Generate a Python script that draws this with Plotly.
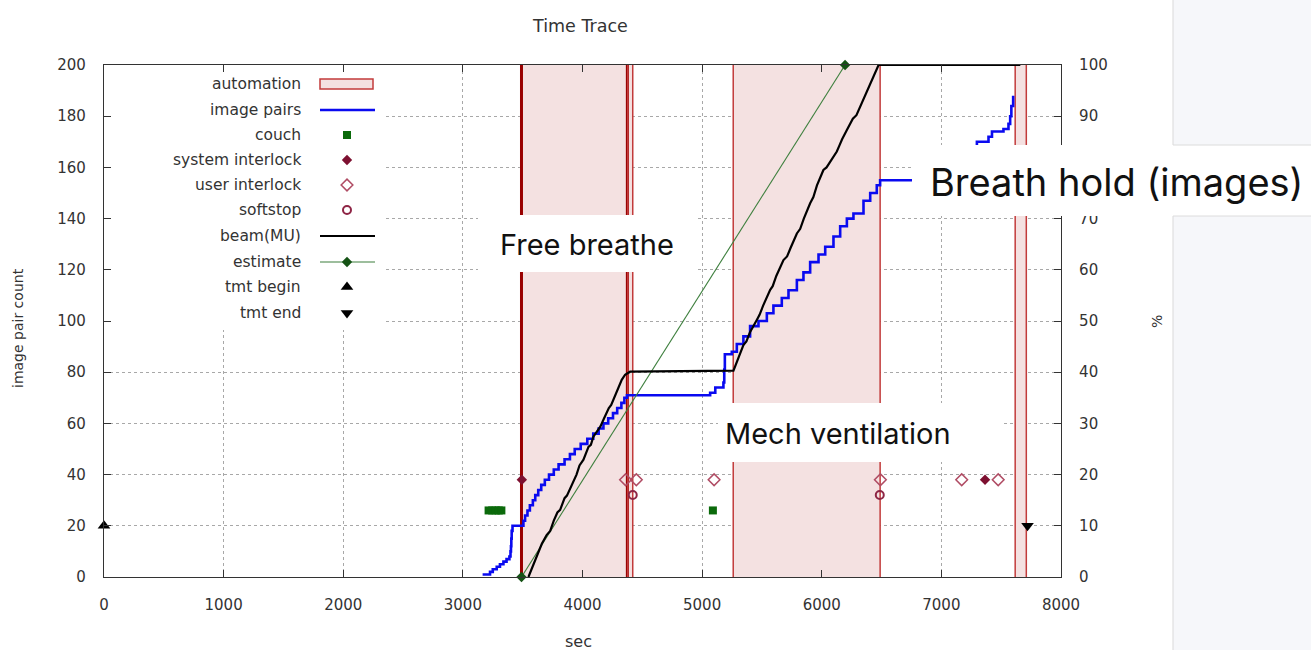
import plotly.graph_objects as go

# ---------------- data ----------------
x_ticks = [0, 1000, 2000, 3000, 4000, 5000, 6000, 7000, 8000]
y_ticks = [0, 20, 40, 60, 80, 100, 120, 140, 160, 180, 200]
y2_ticks = [0, 10, 20, 30, 40, 50, 60, 70, 80, 90, 100]
y2_labels = ["0", "10", "20", "30", "40", "50", "60", "70", "", "90", "100"]  # 80 is hidden under the note

auto_start = [3490, 4378, 5260, 7617]
auto_end = [4375, 4420, 6488, 7710]

img_t = [3165, 3200, 3227, 3250, 3283, 3310, 3339, 3365, 3389, 3398, 3402, 3405, 3408, 3415,
         3506, 3520, 3540, 3560, 3585, 3605, 3630, 3655, 3685, 3720, 3760, 3800, 3850, 3895,
         3935, 3985, 4040, 4090, 4135, 4175, 4215, 4255, 4290, 4325, 4350, 4372,
         5067, 5110, 5178, 5185, 5190, 5248, 5290, 5345, 5401, 5471, 5541, 5596, 5666, 5722,
         5792, 5847, 5903, 5973, 6029, 6098, 6154, 6210, 6265, 6349, 6405, 6460, 6488,
         7050, 7150, 7230, 7297, 7394, 7423, 7519, 7561, 7575, 7585, 7600]
img_n = [1, 1, 2, 3, 4, 5, 6, 7, 8, 10, 12, 15, 18, 20,
         22, 24, 26, 28, 30, 32, 34, 36, 38, 40, 42, 44, 46, 48,
         50, 52, 54, 56, 58, 60, 62, 64, 66, 68, 70, 71,
         72, 74, 76, 81, 87, 88, 91, 94, 98, 100, 103, 106, 109, 112,
         116, 119, 123, 126, 129, 133, 137, 140, 142, 147, 150, 153, 155,
         158, 162, 166, 170, 172, 174, 175, 177, 180, 184, 188]

beam_t = [3548, 3580, 3617, 3640, 3660, 3700, 3730, 3760, 3790, 3813, 3850, 3870, 3896, 3950,
          3975, 4008, 4050, 4070, 4091, 4130, 4150, 4175, 4220, 4240, 4259, 4300, 4328, 4356,
          4398, 5262, 5300, 5345, 5370, 5400, 5457, 5480, 5510, 5569, 5590, 5620, 5680, 5710,
          5740, 5792, 5820, 5850, 5903, 5930, 5960, 6014, 6040, 6070, 6126, 6150, 6170, 6210,
          6260, 6290, 6321, 6360, 6405, 6440, 6475, 7660]
beam_pct = [0, 1.8, 4.0, 5.0, 6.5, 8.2, 9.0, 11.0, 12.6, 13.1, 15.4, 15.9, 17.3, 20.0,
            21.8, 22.9, 25.4, 25.8, 27.4, 28.9, 29.4, 30.7, 33.0, 33.6, 34.6, 37.0, 38.5, 39.5,
            40.1, 40.3, 42.5, 45.3, 46.0, 47.8, 50.2, 51.2, 53.0, 56.1, 56.8, 58.8, 61.9, 62.6,
            64.3, 67.1, 68.0, 70.0, 73.0, 74.2, 76.5, 79.5, 80.0, 81.0, 83.1, 84.4, 85.5, 87.3,
            89.5, 90.2, 91.9, 94.0, 96.4, 98.2, 100, 100]

est_t = [3490, 6195]
est_pct = [0, 100]

couch_t = [3215, 3245, 3275, 3300, 3322, 5090]
couch_n = [26, 26, 26, 26, 26, 26]

sys_t = [3493, 7365]
sys_n = [38, 38]

user_t = [4360, 4450, 5100, 6490, 7170, 7475]
user_n = [38, 38, 38, 38, 38, 38]

soft_t = [4420, 6485]
soft_n = [32, 32]

tmt_begin_t = [0]
tmt_begin_n = [20]
tmt_end_t = [7720]
tmt_end_n = [20]

legend_labels = ["automation", "image pairs", "couch", "system interlock", "user interlock",
                 "softstop", "beam(MU)", "estimate", "tmt begin", "tmt end"]

# ---------------- geometry ----------------
W, H = 1311, 650
L, R, T, B = 104, 1061, 65, 577
XMAX, YMAX = 8000, 200


def px_x(p):  # pixel -> paper x
    return (p - L) / (R - L)


def px_y(p):  # pixel -> paper y
    return (B - p) / (B - T)


def dx(p):  # pixel -> data x
    return (p - L) / (R - L) * XMAX


def dy(p):  # pixel -> data y (left axis)
    return (B - p) / (B - T) * YMAX


BLUE = "#0a0af0"
GREEN_LINE = "#3d7f3d"
GREEN_DK = "#145214"
COUCH = "#0b6a0b"
MAROON = "#7d1030"
USER = "#b04c64"
SOFT = "#8e2545"
PINK = "#f4e1e1"
RED = "#c23b3b"
DKRED = "#990000"
AXIS = "#333333"
GRID = "#a8a8a8"
TXT = "#333333"
FONT = "DejaVu Sans, sans-serif"
OVL = "Inter, Noto Sans, sans-serif"

fig = go.Figure()

# ---------------- data traces ----------------
fig.add_trace(go.Scatter(x=img_t, y=img_n, mode="lines", line=dict(color=BLUE, width=2.6, shape="hv"),
                         yaxis="y"))
fig.add_trace(go.Scatter(x=est_t, y=est_pct, mode="lines+markers", yaxis="y2",
                         line=dict(color=GREEN_LINE, width=1.1),
                         marker=dict(symbol="diamond", size=8, color=GREEN_DK), cliponaxis=False))
fig.add_trace(go.Scatter(x=beam_t, y=beam_pct, mode="lines", yaxis="y2",
                         line=dict(color="black", width=2.2), cliponaxis=False))
fig.add_trace(go.Scatter(x=couch_t, y=couch_n, mode="markers",
                         marker=dict(symbol="square", size=8, color=COUCH)))
fig.add_trace(go.Scatter(x=sys_t, y=sys_n, mode="markers",
                         marker=dict(symbol="diamond", size=8, color=MAROON)))
fig.add_trace(go.Scatter(x=user_t, y=user_n, mode="markers",
                         marker=dict(symbol="diamond-open", size=9, color=USER, line=dict(width=1.5))))
fig.add_trace(go.Scatter(x=soft_t, y=soft_n, mode="markers",
                         marker=dict(symbol="circle-open", size=8, color=SOFT, line=dict(width=2))))
fig.add_trace(go.Scatter(x=tmt_begin_t, y=tmt_begin_n, mode="markers", cliponaxis=False,
                         marker=dict(symbol="triangle-up", size=11, color="black")))
fig.add_trace(go.Scatter(x=tmt_end_t, y=tmt_end_n, mode="markers", cliponaxis=False,
                         marker=dict(symbol="triangle-down", size=11, color="black")))

shapes = []
# automation regions
for i, (s, e) in enumerate(zip(auto_start, auto_end)):
    shapes.append(dict(type="rect", xref="x", yref="y", x0=s, x1=e, y0=0, y1=YMAX,
                       fillcolor=PINK, line=dict(width=0), layer="between"))
for i, (s, e) in enumerate(zip(auto_start, auto_end)):
    col, w = (DKRED, 3) if i == 0 else (RED, 1.5)
    for xv in (s, e):
        shapes.append(dict(type="line", xref="x", yref="y", x0=xv, x1=xv, y0=0, y1=YMAX,
                           line=dict(color=col, width=w), layer="between"))

# legend background (opaque, hides grid)
shapes.append(dict(type="rect", xref="x", yref="y", x0=dx(L + 1), x1=dx(383), y0=dy(330), y1=dy(T + 1),
                   fillcolor="white", line=dict(width=0), layer="between"))

# right side slide panel
shapes.append(dict(type="rect", xref="paper", yref="paper", x0=px_x(1173), x1=px_x(1312),
                   y0=px_y(651), y1=px_y(-1), fillcolor="#f6f7fa", line=dict(color="#d9d9d9", width=1),
                   layer="below"))

# overlay white boxes
boxes = [(478, 695, 215, 272), (718, 1003, 403, 462), (912, 1312, 145, 216)]
for (x0, x1, y0, y1) in boxes:
    shapes.append(dict(type="rect", xref="paper", yref="paper", x0=px_x(x0), x1=px_x(x1),
                       y0=px_y(y1), y1=px_y(y0), fillcolor="white", line=dict(width=0), layer="above"))
for yy in (145, 216):
    shapes.append(dict(type="line", xref="paper", yref="paper", x0=px_x(1173), x1=px_x(1312),
                       y0=px_y(yy), y1=px_y(yy), line=dict(color="#dcdcdc", width=1), layer="above"))

# ---------------- custom legend (gnuplot style: text then sample) ----------------
rows = [84, 110, 135, 160, 185, 210, 236, 262, 287, 313]
annotations = []
for lab, yy in zip(legend_labels, rows):
    annotations.append(dict(xref="x3", yref="y3", x=303, y=yy, text=lab, showarrow=False,
                            xanchor="right", yanchor="middle", font=dict(family=FONT, size=15.5, color=TXT)))
SX0, SX1, SXC = 320, 375, 347
shapes.append(dict(type="rect", xref="x3", yref="y3", x0=SX0, x1=SX1 - 2, y0=rows[0] - 5, y1=rows[0] + 5,
                   fillcolor=PINK, line=dict(color=RED, width=1.5), layer="above"))
fig.add_trace(go.Scatter(x=[SX0, SX1], y=[rows[1]] * 2, xaxis="x3", yaxis="y3", mode="lines",
                         line=dict(color=BLUE, width=2.6)))
fig.add_trace(go.Scatter(x=[SXC], y=[rows[2]], xaxis="x3", yaxis="y3", mode="markers",
                         marker=dict(symbol="square", size=8, color=COUCH)))
fig.add_trace(go.Scatter(x=[SXC], y=[rows[3]], xaxis="x3", yaxis="y3", mode="markers",
                         marker=dict(symbol="diamond", size=8, color=MAROON)))
fig.add_trace(go.Scatter(x=[SXC], y=[rows[4]], xaxis="x3", yaxis="y3", mode="markers",
                         marker=dict(symbol="diamond-open", size=9, color=USER, line=dict(width=1.5))))
fig.add_trace(go.Scatter(x=[SXC], y=[rows[5]], xaxis="x3", yaxis="y3", mode="markers",
                         marker=dict(symbol="circle-open", size=8, color=SOFT, line=dict(width=2))))
fig.add_trace(go.Scatter(x=[SX0, SX1], y=[rows[6]] * 2, xaxis="x3", yaxis="y3", mode="lines",
                         line=dict(color="black", width=2.2)))
fig.add_trace(go.Scatter(x=[SX0, SX1], y=[rows[7]] * 2, xaxis="x3", yaxis="y3", mode="lines",
                         line=dict(color=GREEN_LINE, width=1.1)))
fig.add_trace(go.Scatter(x=[SXC], y=[rows[7]], xaxis="x3", yaxis="y3", mode="markers",
                         marker=dict(symbol="diamond", size=8, color=GREEN_DK)))
fig.add_trace(go.Scatter(x=[SXC], y=[rows[8]], xaxis="x3", yaxis="y3", mode="markers",
                         marker=dict(symbol="triangle-up", size=11, color="black")))
fig.add_trace(go.Scatter(x=[SXC], y=[rows[9]], xaxis="x3", yaxis="y3", mode="markers",
                         marker=dict(symbol="triangle-down", size=11, color="black")))

# ---------------- texts ----------------
def txt(x, y, s, size, family=FONT, color=TXT, xanchor="center", angle=0):
    return dict(xref="paper", yref="paper", x=px_x(x), y=px_y(y), text=s, showarrow=False,
                xanchor=xanchor, yanchor="middle", textangle=angle,
                font=dict(family=family, size=size, color=color))


annotations += [
    txt(580, 26, "Time Trace", 17.5),
    txt(578, 641, "sec", 16),
    txt(18, 328, "image pair count", 14, angle=-90),
    txt(1157, 322, "%", 14, angle=-90),
    txt(587, 244, "Free breathe", 29, family=OVL, color="#111111"),
    txt(723, 433, "Mech ventilation", 29, family=OVL, color="#111111", xanchor="left"),
    txt(928, 182, "Breath hold (images)", 38, family=OVL, color="#111111", xanchor="left"),
]

axis_common = dict(showline=True, linecolor=AXIS, linewidth=1.2, ticks="inside", ticklen=7,
                   tickcolor=AXIS, zeroline=False, tickfont=dict(family=FONT, size=15, color=TXT))

fig.update_layout(
    width=W, height=H, margin=dict(l=L, r=W - R, t=T, b=H - B),
    plot_bgcolor="white", paper_bgcolor="white", showlegend=False,
    xaxis=dict(range=[0, XMAX], tickvals=x_ticks, mirror="ticks", showgrid=True, gridcolor=GRID,
               griddash="dot", gridwidth=1, ticklabelstandoff=14, **axis_common),
    yaxis=dict(range=[0, YMAX], tickvals=y_ticks, showgrid=True, gridcolor=GRID, griddash="dot",
               gridwidth=1, ticklabelstandoff=14, **axis_common),
    yaxis2=dict(range=[0, 100], tickvals=y2_ticks, ticktext=y2_labels, overlaying="y", side="right",
                showgrid=False, ticklabelstandoff=14, **axis_common),
    xaxis3=dict(range=[L, R], overlaying="x", visible=False, anchor="y3"),
    yaxis3=dict(range=[B, T], overlaying="y", visible=False, anchor="x3"),
    shapes=shapes, annotations=annotations,
)

fig.write_html("out.html")
